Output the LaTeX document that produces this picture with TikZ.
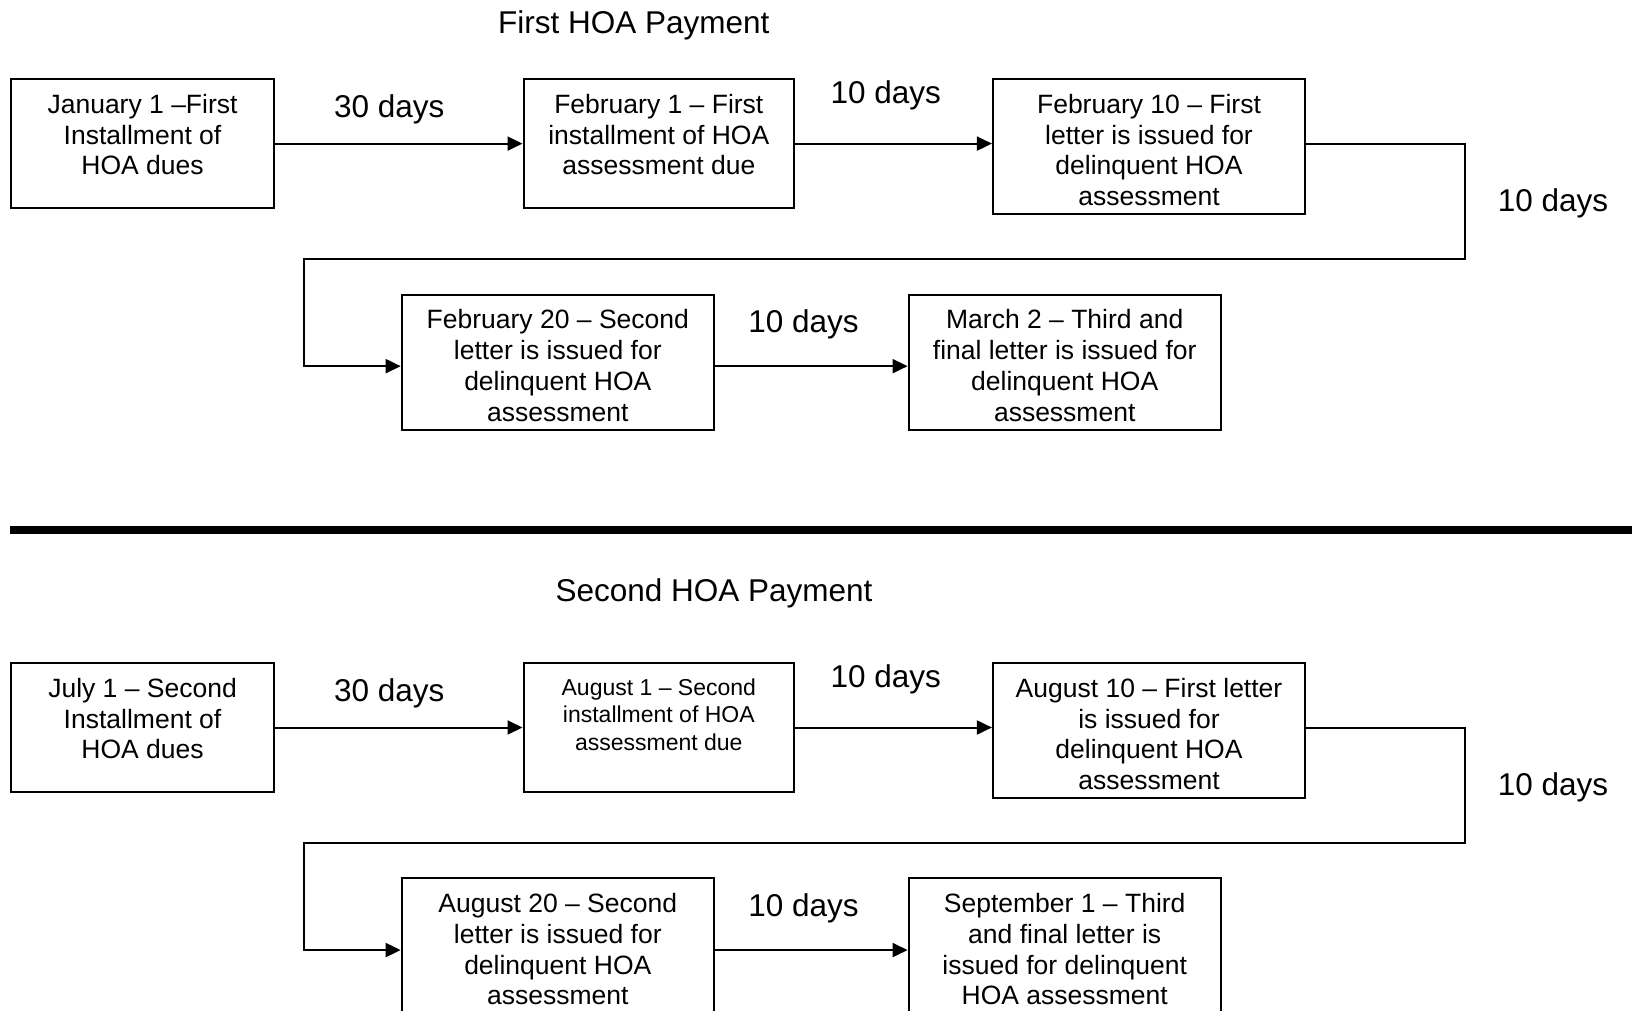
\documentclass[tikz,border=0pt]{standalone}
\usepackage{fontspec}
\setmainfont{Liberation Sans}
\usetikzlibrary{arrows.meta}
\newcommand\boxtext[4]{\parbox[t][#2][t]{#1}{\centering\rule{0pt}{#3}#4}}
\begin{document}
\begin{tikzpicture}[x=1pt,y=-1pt,
  hbox/.style={draw, line width=2pt, inner sep=0pt, anchor=north west, font=\fontsize{26.5}{30.7}\selectfont},
  lbl/.style={anchor=base, inner sep=0pt, font=\fontsize{31.5}{36}\selectfont},
  flow/.style={line width=2pt, -{Triangle[length=15pt,width=14pt]}},
  sep/.style={line width=8pt}]
\useasboundingbox (0,0) rectangle (1632,1011);
\clip (0,0) rectangle (1632,1011);

% ---------- First HOA payment ----------
\node[lbl] (t1) at (633.8,33.1) {First HOA Payment};
\node[hbox] (a1) at (10.4,78.1) {\boxtext{262.3pt}{129pt}{34.4pt}{January 1 –First\\Installment of\\HOA dues}};
\node[hbox] (a2) at (522.5,78.1) {\boxtext{270.6pt}{129pt}{34.4pt}{February 1 – First\\installment of HOA\\assessment due}};
\node[hbox] (a3) at (991.9,78.1) {\boxtext{312.2pt}{135.3pt}{34.4pt}{February 10 – First\\letter is issued for\\delinquent HOA\\assessment}};
\node[hbox] (a4) at (400.7,293.5) {\boxtext{312.2pt}{135.3pt}{34.4pt}{February 20 – Second\\letter is issued for\\delinquent HOA\\assessment}};
\node[hbox] (a5) at (907.6,293.5) {\boxtext{312.2pt}{135.3pt}{34.4pt}{March 2 – Third and\\final letter is issued for\\delinquent HOA\\assessment}};
\node[lbl] (la1) at (389.3,117.4) {30 days};
\node[lbl] (la2) at (885.7,103.9) {10 days};
\node[lbl] (la3) at (1552.9,211.1) {10 days};
\node[lbl] (la4) at (803.5,332.8) {10 days};
\coordinate (ka) at (1465.4,259.2);
\coordinate (kb) at (303.9,259.2);
\draw[flow] (a1.east) -- (a2.west);
\draw[flow] (a2.east) -- (a2.east -| a3.west);
\draw[flow] (a2.east -| a3.east) -| (ka) -- (kb) |- ([yshift=-4pt]a4.west);
\draw[flow] ([yshift=-4pt]a4.east) -- ([yshift=-4pt]a5.west);

% ---------- separator ----------
\coordinate (s1) at (10.4,530);
\coordinate (s2) at (1640,530);
\draw[sep] (s1) -- (s2);

% ---------- Second HOA payment ----------
\node[lbl] (t2) at (714,601.4) {Second HOA Payment};
\begin{scope}[yshift=-583.9pt]
\node[hbox] (b1) at (10.4,78.1) {\boxtext{262.3pt}{129pt}{34.4pt}{July 1 – Second\\Installment of\\HOA dues}};
\node[hbox, font=\fontsize{23}{27.6}\selectfont] (b2) at (522.5,78.1) {\boxtext{270.6pt}{129pt}{32.3pt}{August 1 – Second\\installment of HOA\\assessment due}};
\node[hbox] (b3) at (991.9,78.1) {\boxtext{312.2pt}{135.3pt}{34.4pt}{August 10 – First letter\\is issued for\\delinquent HOA\\assessment}};
\node[hbox] (b4) at (400.7,293.5) {\boxtext{312.2pt}{135.3pt}{34.4pt}{August 20 – Second\\letter is issued for\\delinquent HOA\\assessment}};
\node[hbox] (b5) at (907.6,293.5) {\boxtext{312.2pt}{135.3pt}{34.4pt}{September 1 – Third\\and final letter is\\issued for delinquent\\HOA assessment}};
\node[lbl] (lb1) at (389.3,117.4) {30 days};
\node[lbl] (lb2) at (885.7,103.9) {10 days};
\node[lbl] (lb3) at (1552.9,211.1) {10 days};
\node[lbl] (lb4) at (803.5,332.8) {10 days};
\coordinate (kc) at (1465.4,259.2);
\coordinate (kd) at (303.9,259.2);
\draw[flow] (b1.east) -- (b2.west);
\draw[flow] (b2.east) -- (b2.east -| b3.west);
\draw[flow] (b2.east -| b3.east) -| (kc) -- (kd) |- ([yshift=-4pt]b4.west);
\draw[flow] ([yshift=-4pt]b4.east) -- ([yshift=-4pt]b5.west);
\end{scope}
\end{tikzpicture}
\end{document}
